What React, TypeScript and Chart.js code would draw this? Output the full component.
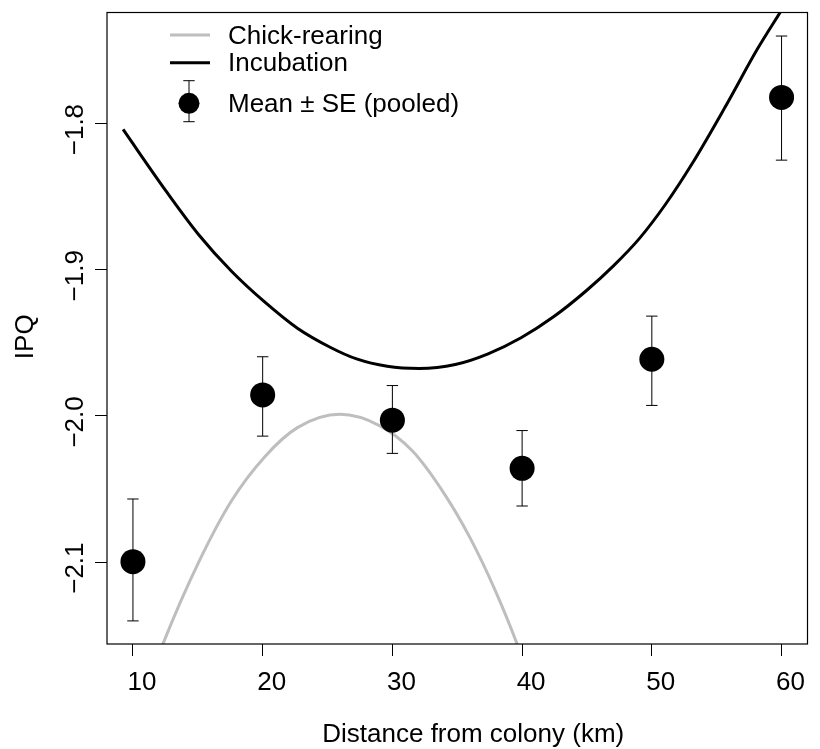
import React, { useEffect, useRef } from 'react';
import { Chart, registerables } from 'chart.js';

Chart.register(...registerables);

// ---- data ----
const distances = [10, 20, 30, 40, 50, 60];
const meanIPQ = [-2.0997, -1.9856, -2.0029, -2.0358, -1.9612, -1.7821];
const seUpper = [-2.0568, -1.9595, -1.9792, -2.01, -1.9317, -1.7401];
const seLower = [-2.1402, -2.0138, -2.0256, -2.0616, -1.9928, -1.825];

const incubationX = [9.24, 12.54, 15.07, 17.6, 20.15, 22.68, 25.2, 27.24, 29.6, 32.06, 34.85, 37.38, 39.92, 42.45, 44.99, 47.02, 49.05, 51.07, 53.1, 55.63, 58.17, 60.0];
const incubationY = [-1.804, -1.846, -1.876, -1.901, -1.922, -1.940, -1.953, -1.961, -1.966, -1.9675, -1.9648, -1.9575, -1.9465, -1.932, -1.914, -1.8975, -1.8785, -1.855, -1.8275, -1.789, -1.7485, -1.7224];

const chickX = [11.0, 12.33, 15.07, 17.6, 20.15, 22.68, 25.97, 29.0, 31.55, 34.03, 36.0, 38.0, 39.6, 41.0];
const chickY = [-2.188, -2.1556, -2.1, -2.058, -2.028, -2.008, -1.9989, -2.0066, -2.0240, -2.0536, -2.0836, -2.1208, -2.1556, -2.19];

const xTicks = [10, 20, 30, 40, 50, 60];
const xTickLabels = ['10', '20', '30', '40', '50', '60'];
const yTicks = [-2.1, -2.0, -1.9, -1.8];
const yTickLabels = ['\u22122.1', '\u22122.0', '\u22121.9', '\u22121.8'];

const xTitle = 'Distance from colony (km)';
const yTitle = 'IPQ';
const legendLabels = ['Chick-rearing', 'Incubation', 'Mean \u00b1 SE (pooled)'];

const GRAY = '#bebebe';
const FONT = '26px "Liberation Sans", Arial, Helvetica, sans-serif';

const decorPlugin = {
  id: 'decor',
  beforeDatasetDraw(chart: any, args: any) {
    if (args.index !== 0) return;
    const { ctx, scales } = chart;
    const x = scales.x;
    const y = scales.y;
    ctx.save();
    ctx.strokeStyle = '#000';
    ctx.lineWidth = 1;
    distances.forEach((d, i) => {
      const px = x.getPixelForValue(d);
      const top = y.getPixelForValue(seUpper[i]);
      const bot = y.getPixelForValue(seLower[i]);
      ctx.beginPath();
      ctx.moveTo(px, top);
      ctx.lineTo(px, bot);
      ctx.moveTo(px - 5.7, top);
      ctx.lineTo(px + 5.7, top);
      ctx.moveTo(px - 5.7, bot);
      ctx.lineTo(px + 5.7, bot);
      ctx.stroke();
    });
    ctx.restore();
  },
  afterDraw(chart: any) {
    const { ctx, chartArea, scales } = chart;
    const x = scales.x;
    const y = scales.y;
    ctx.save();
    // box
    ctx.strokeStyle = '#000';
    ctx.lineWidth = 1.2;
    ctx.strokeRect(chartArea.left, chartArea.top, chartArea.right - chartArea.left, chartArea.bottom - chartArea.top);

    ctx.fillStyle = '#000';
    ctx.font = FONT;
    // x tick labels
    ctx.textAlign = 'center';
    ctx.textBaseline = 'alphabetic';
    xTicks.forEach((v, i) => {
      ctx.fillText(xTickLabels[i], x.getPixelForValue(v) + 9, 690);
    });
    // x title
    ctx.fillText(xTitle, (chartArea.left + chartArea.right) / 2 + 16, 742);
    // y tick labels (rotated)
    yTicks.forEach((v, i) => {
      ctx.save();
      ctx.translate(83, y.getPixelForValue(v) + 6);
      ctx.rotate(-Math.PI / 2);
      ctx.fillText(yTickLabels[i], 0, 0);
      ctx.restore();
    });
    // y title
    ctx.save();
    ctx.translate(33, (chartArea.top + chartArea.bottom) / 2 + 8.5);
    ctx.rotate(-Math.PI / 2);
    ctx.fillText(yTitle, 0, 0);
    ctx.restore();

    // legend
    ctx.lineCap = 'butt';
    ctx.lineWidth = 3;
    ctx.strokeStyle = GRAY;
    ctx.beginPath();
    ctx.moveTo(170, 35);
    ctx.lineTo(210, 35);
    ctx.stroke();
    ctx.strokeStyle = '#000';
    ctx.beginPath();
    ctx.moveTo(170, 62.7);
    ctx.lineTo(210, 62.7);
    ctx.stroke();
    ctx.lineWidth = 1;
    ctx.beginPath();
    ctx.moveTo(189, 80.7);
    ctx.lineTo(189, 121.7);
    ctx.moveTo(183.3, 80.7);
    ctx.lineTo(194.7, 80.7);
    ctx.moveTo(183.3, 121.7);
    ctx.lineTo(194.7, 121.7);
    ctx.stroke();
    ctx.beginPath();
    ctx.arc(189, 103.3, 10.5, 0, Math.PI * 2);
    ctx.fill();
    ctx.textAlign = 'left';
    ctx.fillText(legendLabels[0], 228, 43.5);
    ctx.fillText(legendLabels[1], 228, 71);
    ctx.fillText(legendLabels[2], 228, 112);
    ctx.restore();
  },
};

export default function App() {
  const canvasRef = useRef<HTMLCanvasElement | null>(null);

  useEffect(() => {
    if (!canvasRef.current) return;
    const chart = new Chart(canvasRef.current, {
      type: 'scatter',
      data: {
        datasets: [
          {
            label: 'Mean ± SE (pooled)',
            data: distances.map((d, i) => ({ x: d, y: meanIPQ[i] })),
            showLine: false,
            pointRadius: 12.5,
            pointBackgroundColor: '#000',
            pointBorderWidth: 0,
            pointBorderColor: '#000',
          },
          {
            label: 'Incubation',
            data: incubationX.map((v, i) => ({ x: v, y: incubationY[i] })),
            showLine: true,
            borderColor: '#000',
            borderWidth: 3,
            pointRadius: 0,
            cubicInterpolationMode: 'monotone',
            clip: 0,
          },
          {
            label: 'Chick-rearing',
            data: chickX.map((v, i) => ({ x: v, y: chickY[i] })),
            showLine: true,
            borderColor: GRAY,
            borderWidth: 3,
            pointRadius: 0,
            cubicInterpolationMode: 'monotone',
            clip: 0,
          },
        ] as any,
      },
      options: {
        animation: false,
        responsive: false,
        devicePixelRatio: 1,
        layout: { padding: { left: 0, top: 7, right: 3, bottom: 0 } },
        plugins: {
          legend: { display: false },
          tooltip: { enabled: false },
        },
        scales: {
          x: {
            type: 'linear',
            min: 8,
            max: 62,
            afterBuildTicks: (s: any) => {
              s.ticks = xTicks.map((v) => ({ value: v }));
            },
            afterFit: (s: any) => {
              s.height = 105;
            },
            ticks: { display: false },
            grid: { display: true, drawOnChartArea: false, drawTicks: true, tickLength: 12, color: '#000', lineWidth: 1 },
            border: { display: false },
          },
          y: {
            type: 'linear',
            min: -2.156,
            max: -1.724,
            afterBuildTicks: (s: any) => {
              s.ticks = yTicks.map((v) => ({ value: v }));
            },
            afterFit: (s: any) => {
              s.width = 107;
            },
            ticks: { display: false },
            grid: { display: true, drawOnChartArea: false, drawTicks: true, tickLength: 12, color: '#000', lineWidth: 1 },
            border: { display: false },
          },
        },
      } as any,
      plugins: [decorPlugin],
    });
    return () => chart.destroy();
  }, []);

  return (
    <div style={{ position: 'fixed', left: 0, top: 0, width: 820, height: 749, background: '#fff' }}>
      <canvas ref={canvasRef} width={820} height={749} style={{ display: 'block', width: 820, height: 749 }} />
    </div>
  );
}
